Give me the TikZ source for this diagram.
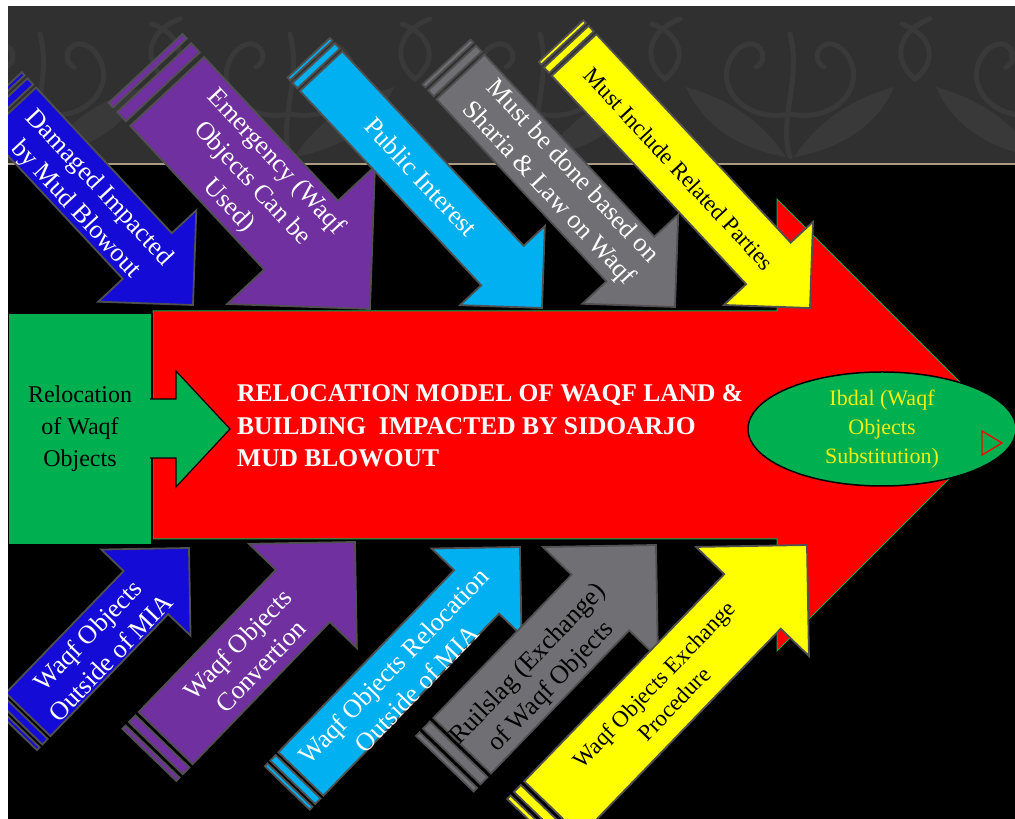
\documentclass[tikz,border=0pt]{standalone}
\usepackage{fontspec}
\setmainfont{Liberation Serif}
\usetikzlibrary{shapes.geometric}
\definecolor{wblue}{RGB}{20,12,214}
\definecolor{wpurple}{RGB}{112,48,160}
\definecolor{wcyan}{RGB}{0,176,240}
\definecolor{wgray}{RGB}{112,111,115}
\definecolor{wyellow}{RGB}{255,255,0}
\definecolor{wgreen}{RGB}{0,176,80}
\definecolor{edgegray}{RGB}{80,80,80}
\definecolor{band}{RGB}{48,48,48}
\definecolor{damask}{RGB}{57,57,57}
\definecolor{bandline}{RGB}{170,155,130}
\definecolor{ibdal}{RGB}{240,240,20}
\tikzset{pics/striped/.style args={#1/#2}{code={
    \path[pic actions] (-#2,-#1/4) rectangle (-#2+#1/32,#1/4);
    \path[pic actions] (-#2+#1/16,-#1/4) rectangle (-#2+#1/8,#1/4);
    \path[pic actions] (-#2+5*#1/32,-#1/4) -- (-#1/2,-#1/4) -- (-#1/2,-#1/2)
        -- (0,0) -- (-#1/2,#1/2) -- (-#1/2,#1/4) -- (-#2+5*#1/32,#1/4) -- cycle;
}}}
\begin{document}
\begin{tikzpicture}[x=1pt,y=1pt]
    \tikzstyle{lbl} = [align=center, inner sep=0pt, text=white,
        font=\fontsize{26}{32}\selectfont]
    \tikzstyle{lbldark} = [lbl, text=black]
    \tikzstyle{lblsmall} = [lbl, text=black, font=\fontsize{23}{28}\selectfont]
    \tikzstyle{bone} = [draw=edgegray, line width=1.8pt]
    \tikzstyle{curl} = [damask, line width=5pt, line cap=round]

    \useasboundingbox (0,0) rectangle (1015,819);
    \fill[white] (0,0) rectangle (1015,819);
    \begin{scope}
    \clip (8,0) rectangle (1015,813);
    \fill[black] (8,0) rectangle (1015,813);
    \fill[band] (8,656) rectangle (1015,813);
    \foreach \cx in {40,290,540,790,1040} {
      \begin{scope}[shift={(\cx,0)}]
        \draw[curl] (0,662) .. controls (-12,700) and (12,740) .. (0,785);
        \draw[curl] (0,705) .. controls (-50,695) and (-82,740) .. (-52,770)
            .. controls (-32,786) and (-18,760) .. (-34,752);
        \draw[curl] (0,705) .. controls (50,695) and (82,740) .. (52,770)
            .. controls (32,786) and (18,760) .. (34,752);
        \fill[damask] (-4,662) .. controls (-60,672) and (-90,700) .. (-104,732)
            .. controls (-62,720) and (-30,700) .. (-4,662);
        \fill[damask] (4,662) .. controls (60,672) and (90,700) .. (104,732)
            .. controls (62,720) and (30,700) .. (4,662);
        \draw[curl] (125,740) .. controls (100,760) and (110,790) .. (140,800);
        \draw[curl] (125,740) .. controls (150,760) and (140,785) .. (112,795);
      \end{scope}
    }
    \draw[bandline, line width=2pt] (8,655) -- (1015,655);
    %
    \filldraw[fill=red, draw=wgreen, line width=1pt] (153,280) -- (777,280) -- (777,168)
        -- (1003,394) -- (777,620) -- (777,508) -- (153,508) -- cycle;
    \node[draw=black, fill=wgreen, line width=1.2pt, minimum width=144pt, minimum height=231pt,
        align=center, inner sep=0pt, font=\fontsize{24}{32}\selectfont] (reloc) at (80,390)
        {Relocation\\of Waqf\\Objects};
    \filldraw[fill=wgreen, draw=black, line width=1.2pt] (150,420) -- (176,420) -- (176,448)
        -- (230,390) -- (176,332) -- (176,361) -- (150,361);
    \node[anchor=west, align=left, inner sep=0pt, text=white,
        font=\bfseries\fontsize{25.5}{32.5}\selectfont] (title) at (237,393)
        {RELOCATION MODEL OF WAQF LAND \&\\BUILDING\ \ IMPACTED BY SIDOARJO\\MUD BLOWOUT};
    \node[ellipse, draw=black, fill=wgreen, line width=1.5pt, minimum width=268pt,
        minimum height=114pt, align=center, inner sep=0pt, text=ibdal,
        font=\fontsize{22}{29}\selectfont] (ibdal) at (882,390) {Ibdal (Waqf\\Objects\\Substitution)};
    \draw[red, line width=1.3pt] (982,388) -- (982,364) -- (1002,376) -- cycle;
    %
    \pic[bone, fill=wblue, rotate=-47] at (193,514) {striped=134/287};
    \pic[bone, fill=wpurple, rotate=-47] at (370,510) {striped=202/329};
    \pic[bone, fill=wcyan, rotate=-47] at (542,511) {striped=116/342};
    \pic[bone, fill=wgray, rotate=-47] at (675,512) {striped=131/335};
    \pic[bone, fill=wyellow, rotate=-47] at (810,511) {striped=122/365};
    %
    \pic[bone, fill=wblue, rotate=46] at (189,271) {striped=124/251};
    \pic[bone, fill=wpurple, rotate=46] at (355,277) {striped=150/296};
    \pic[bone, fill=wcyan, rotate=46] at (520,272) {striped=125/335};
    \pic[bone, fill=wgray, rotate=46] at (656,274) {striped=160/304};
    \pic[bone, fill=wyellow, rotate=46] at (807,274) {striped=157/391};
    %
    \node[lbl, rotate=-47] (damaged) at (87,620) {Damaged Impacted\\by Mud Blowout};
    \node[lbl, rotate=-47] (emergency) at (252,635) {Emergency (Waqf\\Objects Can be\\Used)};
    \node[lbl, rotate=-47] (public) at (421,642) {Public Interest};
    \node[lbl, rotate=-47] (sharia) at (560,636) {Must be done based on\\Sharia \& Law on Waqf};
    \node[lblsmall, rotate=-47] (parties) at (679,650) {Must Include Related Parties};
    %
    \node[lbl, rotate=46] (outside) at (99,173) {Waqf Objects\\Outside of MIA};
    \node[lbl, rotate=46] (convert) at (249,164) {Waqf Objects\\Convertion};
    \node[lbl, rotate=46] (relocout) at (405,142) {Waqf Objects Relocation\\Outside of MIA};
    \node[lbldark, rotate=46] (ruilslag) at (540,143) {Ruilslag (Exchange)\\of Waqf Objects};
    \node[lblsmall, rotate=46] (procedure) at (664,125) {Waqf Objects Exchange\\Procedure};
    \end{scope}
\end{tikzpicture}
\end{document}
